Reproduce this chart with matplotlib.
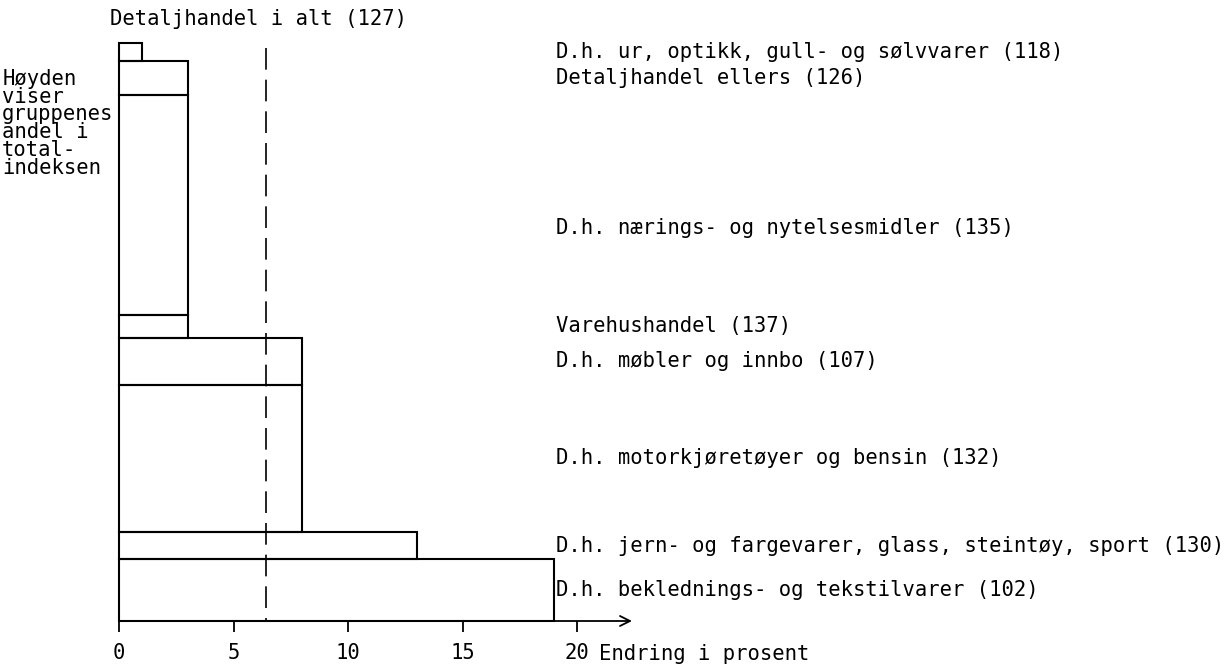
import matplotlib.pyplot as plt

# grupper fra bunn til topp
grupper = ["D.h. beklednings- og tekstilvarer (102)",
           "D.h. jern- og fargevarer, glass, steintøy, sport (130)",
           "D.h. motorkjøretøyer og bensin (132)",
           "D.h. møbler og innbo (107)",
           "Varehushandel (137)",
           "D.h. nærings- og nytelsesmidler (135)",
           "Detaljhandel ellers (126)",
           "D.h. ur, optikk, gull- og sølvvarer (118)"]

endring = [19, 13, 8, 8, 3, 3, 3, 1]            # endring i prosent (bredde)
andel = [10.7, 4.7, 25.5, 8.1, 4.0, 38.0, 5.9, 3.1]  # andel i totalindeksen (hoyde)
total_endring = 6.4
total_tekst = "Detaljhandel i alt (127)"

xticks = [0, 5, 10, 15, 20]
xlabel = "Endring i prosent"
forklaring = "Høyden\nviser\ngruppenes\nandel i\ntotal-\nindeksen"

plt.rcParams['font.family'] = ['DejaVu Sans Mono']
fs = 14.8

fig = plt.figure(figsize=(12.32, 6.66), dpi=100)
ax = fig.add_axes([119/1232, 45/666, (632-119)/1232, (621-43.5)/666])
ax.set_xlim(0, 22.4)
ax.set_ylim(0, 100)

bunn = []
b = 0
for h in andel:
	bunn.append(b)
	b += h

ax.barh(bunn, endring, height=andel, left=0, align='edge',
		fill=False, edgecolor='black', linewidth=1.5, clip_on=False)

# stiplet linje for detaljhandel i alt (tegnet ovenfra)
ax.plot([total_endring, total_endring], [99.3, 0], color='black', linewidth=1.2,
		linestyle=(0, (13, 6)))
ax.text(total_endring - 0.3, 104.2, total_tekst, ha='center', va='center', fontsize=fs)

# tekster til hoyre
flytt = [0, 0, 0, 0, 0, -3.9, 0, 0]
for i in range(len(grupper)):
	yc = bunn[i] + andel[i]/2 + flytt[i]
	ax.text(19.1, yc, grupper[i], ha='left', va='center', fontsize=fs)

ax.text(-5.1, 95.6, forklaring, ha='left', va='top', fontsize=fs, linespacing=0.86)

# akser
for s in ['top', 'right', 'left', 'bottom']:
	ax.spines[s].set_visible(False)
ax.annotate('', xy=(1, 0), xytext=(0, 0), xycoords='axes fraction',
			arrowprops=dict(arrowstyle='->', lw=1.3, color='black', mutation_scale=18,
							shrinkA=0, shrinkB=0))
ax.set_yticks([])
ax.set_xticks(xticks)
ax.set_xticklabels([str(t) for t in xticks], fontsize=fs)
ax.tick_params(axis='x', direction='out', length=8, width=1.3, pad=8)
ax.text(20.95, -5.7, xlabel, ha='left', va='center', fontsize=fs)

plt.savefig("out.png", dpi=100)
